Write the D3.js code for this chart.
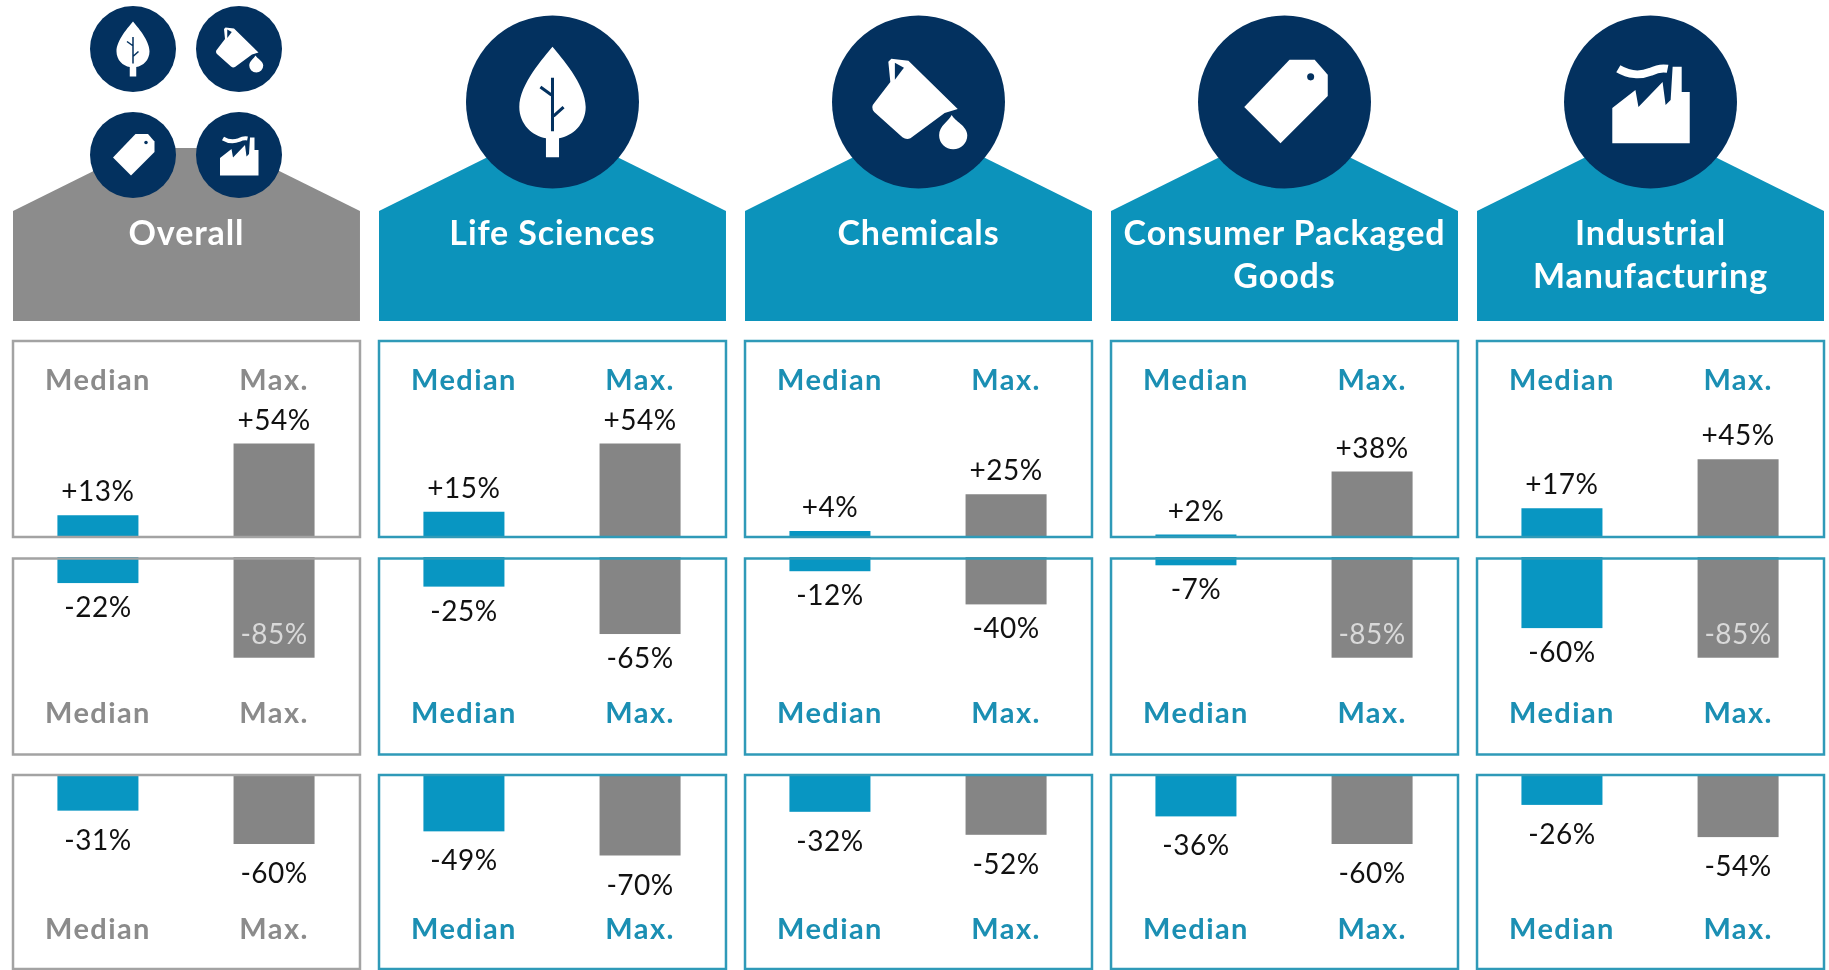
<!DOCTYPE html>
<html>
<head>
<meta charset="utf-8">
<script src="https://cdnjs.cloudflare.com/ajax/libs/d3/7.8.5/d3.min.js"></script>
<style>
  html, body { margin: 0; background: #fff; overflow: hidden; }
  svg { display: block; filter: blur(0.6px); }
  text { font-family: Lato, "Open Sans", sans-serif; }
</style>
</head>
<body>
<script>
var categories = ["Overall", "Life Sciences", "Chemicals", "Consumer Packaged Goods", "Industrial Manufacturing"];
var headerLines = [["Overall"], ["Life Sciences"], ["Chemicals"], ["Consumer Packaged", "Goods"], ["Industrial", "Manufacturing"]];
var measures = ["Median", "Max."];

var upperMedian = [13, 15, 4, 2, 17];
var upperMax = [54, 54, 25, 38, 45];
var middleMedian = [-22, -25, -12, -7, -60];
var middleMax = [-85, -65, -40, -85, -85];
var lowerMedian = [-31, -49, -32, -36, -26];
var lowerMax = [-60, -70, -52, -60, -54];

var width = 1829, height = 970;
var navy = "#03315f", teal = "#0c93bb", barTeal = "#0896c2", grey = "#8b8b8b", barGrey = "#858585";

var svg = d3.select("body").append("svg")
  .attr("width", width)
  .attr("height", height);

var x = d3.scaleBand()
  .domain(categories)
  .range([13, 1824])
  .paddingInner(0.052);

var colW = x.bandwidth();

var xBar = d3.scaleBand()
  .domain(measures)
  .range([-0.5, colW - 0.5])
  .paddingInner(0.54)
  .paddingOuter(0.255);

// every panel has its own scale, bars hang off the panel edge
var panels = [
  { top: 341, bottom: 537, labelY: 390, median: upperMedian, max: upperMax, off: -14,
    y: d3.scaleLinear().domain([0, 100]).range([538, 363]) },
  { top: 558.5, bottom: 754.5, labelY: 723, median: middleMedian, max: middleMax, off: 34,
    y: d3.scaleLinear().domain([0, -100]).range([557, 675.5]) },
  { top: 775, bottom: 969, labelY: 939, median: lowerMedian, max: lowerMax, off: 39,
    y: d3.scaleLinear().domain([0, -100]).range([775, 890]) }
];

function fmt(v) { return (v > 0 ? "+" : "") + v + "%"; }

var icons = {
  leaf: function(g) {
    g.append("path").attr("fill", "#fff")
      .attr("d", "M0,-55 C8,-45 33,-18 33,5 C33,22 20,34 6.5,36 L6.5,55 L-6.5,55 L-6.5,36 C-20,34 -33,22 -33,5 C-33,-18 -8,-45 0,-55 Z");
    g.append("path").attr("fill", "none").attr("stroke", navy).attr("stroke-width", 3)
      .attr("d", "M0,-24 L0,29 M-1,-7 L-12,-15 M1,14 L11,5");
  },
  jug: function(g) {
    g.append("path").attr("fill", "#fff")
      .attr("d", "M-27,-43 L-10,-41 L39,7 L26,11 L-8,36 Q-12,38 -16,35 L-44,10 Q-48,5 -44,1 L-28,-20 L-30,-40 Z");
    g.append("path").attr("fill", navy)
      .attr("d", "M-23.5,-39 L-14.5,-34 L-23.5,-22 Z");
    g.append("path").attr("fill", "#fff")
      .attr("d", "M33,13 C36,19 48.5,24 48.5,33 A14,14 0 1 1 20.5,33 C20.5,24 30,19 33,13 Z");
  },
  tag: function(g) {
    g.append("path").attr("fill", "#fff")
      .attr("d", "M-40,5 L5,-42 L30,-42 L43,-27 L43,-6 L-4,41 Z");
    g.append("circle").attr("cx", 26).attr("cy", -25).attr("r", 3.5).attr("fill", navy);
  },
  factory: function(g) {
    g.append("path").attr("fill", "#fff")
      .attr("d", "M-38,41 L-38,6 L-15,-12 L-12,5 L12,-20 L15,3 L20,-2 L22,-35 L31,-35 L31,-10 L39,-10 L39,41 Z");
    g.append("path").attr("fill", "none").attr("stroke", "#fff").attr("stroke-width", 8)
      .attr("d", "M-32,-33 C-22,-27 -10,-26 0,-30 C6,-33 12,-34 17,-33");
  }
};
var iconNames = ["leaf", "jug", "tag", "factory"];

var col = svg.selectAll("g.col")
  .data(categories)
  .enter()
  .append("g")
  .attr("class", "col")
  .attr("transform", function(d) { return "translate(" + x(d) + ",0)"; });

// header shape
col.append("path")
  .attr("fill", function(d, i) { return i == 0 ? "#8c8c8c" : teal; })
  .attr("d", "M0,321 L0,211 L127,148 L" + (colW - 127) + ",148 L" + colW + ",211 L" + colW + ",321 Z");

function drawIcon(sel, name, cx, cy, r) {
  var g = sel.append("g").attr("transform", "translate(" + cx + "," + cy + ")");
  g.append("circle").attr("r", r).attr("fill", navy);
  var inner = g.append("g").attr("transform", "scale(" + (r / 86) + ")");
  icons[name](inner);
}

col.each(function(d, i) {
  var g = d3.select(this);
  if (i == 0) {
    drawIcon(g, "leaf", 120, 49, 43);
    drawIcon(g, "jug", 226, 49, 43);
    drawIcon(g, "tag", 120, 155, 43);
    drawIcon(g, "factory", 226, 155, 43);
  } else {
    drawIcon(g, iconNames[i - 1], colW / 2, 102, 86.5);
  }

  g.selectAll("text.head")
    .data(headerLines[i])
    .enter()
    .append("text")
    .attr("class", "head")
    .attr("x", colW / 2)
    .attr("y", function(t, j) { return 245 + j * 43; })
    .attr("text-anchor", "middle")
    .attr("font-size", 34)
    .attr("letter-spacing", 0.9)
    .attr("font-weight", 700)
    .attr("fill", "#fff")
    .text(function(t) { return t; });

  var accent = i == 0 ? grey : "#1b8fb3";
  var border = i == 0 ? "#a3a3a3" : "#2f9ab8";

  panels.forEach(function(p) {
    var vals = [p.median[i], p.max[i]];

    g.selectAll(null)
      .data(vals)
      .enter()
      .append("rect")
      .attr("x", function(v, j) { return xBar(measures[j]); })
      .attr("width", xBar.bandwidth())
      .attr("y", function(v) { return Math.min(p.y(v), p.y(0)); })
      .attr("height", function(v) { return Math.abs(p.y(v) - p.y(0)); })
      .attr("fill", function(v, j) { return j == 0 ? barTeal : barGrey; });

    g.append("rect")
      .attr("x", 0)
      .attr("y", p.top)
      .attr("width", colW)
      .attr("height", p.bottom - p.top)
      .attr("fill", "none")
      .attr("stroke", border)
      .attr("stroke-width", 2.5);

    g.selectAll(null)
      .data(measures)
      .enter()
      .append("text")
      .attr("x", function(m) { return xBar(m) + xBar.bandwidth() / 2; })
      .attr("y", p.labelY)
      .attr("text-anchor", "middle")
      .attr("font-size", 29)
      .attr("letter-spacing", 1.4)
      .attr("font-weight", 700)
      .attr("fill", accent)
      .text(function(m) { return m; });

    g.selectAll(null)
      .data(vals)
      .enter()
      .append("text")
      .attr("x", function(v, j) { return xBar(measures[j]) + xBar.bandwidth() / 2; })
      .attr("y", function(v) {
        // the -85% labels do not fit, they sit inside the bar
        if (v == -85) return p.y(v) - 14;
        return p.y(v) + p.off;
      })
      .attr("text-anchor", "middle")
      .attr("font-size", 28)
      .attr("letter-spacing", 0.5)
      .attr("fill", function(v) { return v == -85 ? "#d9d9d9" : "#111"; })
      .text(fmt);
  });
});
</script>
</body>
</html>
